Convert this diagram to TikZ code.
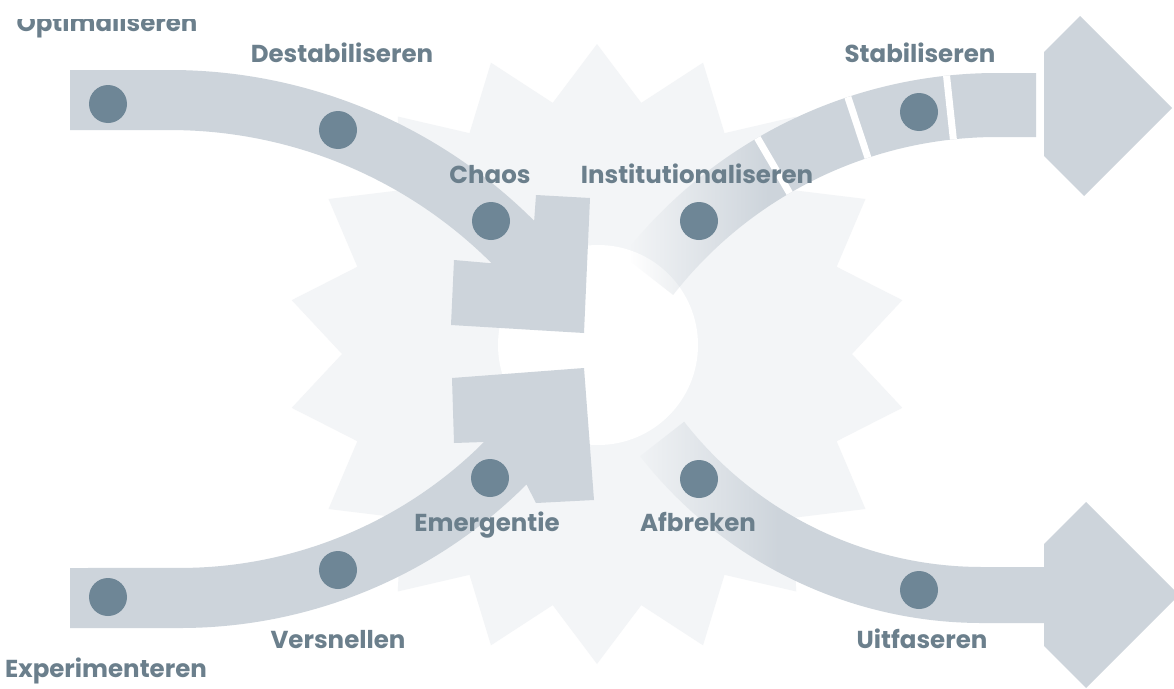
\documentclass[tikz,border=0pt]{standalone}
\usepackage{fontspec}
\setmainfont{Poppins}
\usetikzlibrary{fadings}
\definecolor{armc}{HTML}{CDD4DB}
\definecolor{starc}{HTML}{F3F5F7}
\definecolor{dotc}{HTML}{6E8696}
\definecolor{txtc}{HTML}{6B7F8C}
\tikzfading[name=fadein, left color=transparent!100, right color=transparent!0]
\tikzset{
  arm/.style={fill=armc, draw=none},
  dotnode/.style={circle, fill=dotc, minimum size=38pt, inner sep=0pt},
  lbl/.style={text=txtc, inner sep=0pt, anchor=base, font=\bfseries\fontsize{24.5}{28}\selectfont},
  gapline/.style={draw=white, line width=7pt}
}
\begin{document}
\begin{tikzpicture}[x=1pt, y=-1pt]
\useasboundingbox (0,0) rectangle (1174,688);
\fill[white] (0,0) rectangle (1174,688);
% star
\path[fill=starc] ([shift={(597,354)}]-90:310)
  \foreach \k in {0,...,17}{ -- ([shift={(597,354)}]{-90+20*\k}:310) -- ([shift={(597,354)}]{-80+20*\k}:255) } -- cycle;
% white centre
\fill[white] (598,345) circle[radius=100];

% top-left arm
\fill[arm] (70,70) -- (170,70) arc[start angle=-90, end angle=-45, radius=515]
  -- (536,195) -- (590,198) -- (584,333) -- (451,325) -- (454,260) -- (491.7,263.3)
  arc[start angle=-45, end angle=-90, radius=455] -- (70,130) -- cycle;
% bottom-left arm
\fill[arm] (70,628) -- (180,628) arc[start angle=90, end angle=45, radius=490]
  -- (536,503) -- (594,500) -- (584,368) -- (452,378) -- (454,443) -- (484,442)
  arc[start angle=45, end angle=90, radius=430] -- (70,568) -- cycle;

% top-right arm (fading in)
\begin{scope}
  \clip ([shift={(997,548)}]-142:475) arc[start angle=-142, end angle=-90, radius=475]
    -- (1036,73) -- (1036,137) -- (997,137) arc[start angle=-90, end angle=-142, radius=411] -- cycle;
  \fill[armc] (770,0) rectangle (1174,360);
  \fill[armc, path fading=fadein] (630,0) rectangle (770,360);
\end{scope}
\foreach \a in {-120.3,-108.3,-96.1}{
  \draw[gapline] ([shift={(997,548)}]\a:411) -- ([shift={(997,548)}]\a:475);
}
\fill[arm] (1044,52) -- (1080,16) -- (1172,108) -- (1084,196) -- (1044,156) -- cycle;

% bottom-right arm (fading in)
\begin{scope}
  \clip ([shift={(982,189)}]142:378) arc[start angle=142, end angle=90, radius=378]
    -- (1044,567) -- (1044,544) -- (1086,502) -- (1179,595) -- (1086,688) -- (1044,646) -- (1044,623)
    -- (982,623) arc[start angle=90, end angle=142, radius=434] -- cycle;
  \fill[armc] (780,330) rectangle (1200,700);
  \fill[armc, path fading=fadein] (630,330) rectangle (780,700);
\end{scope}

% dots
\node[dotnode] (d1) at (108,104) {};
\node[dotnode] (d2) at (338,130) {};
\node[dotnode] (d3) at (491,221) {};
\node[dotnode] (d4) at (699,221) {};
\node[dotnode] (d5) at (919,112) {};
\node[dotnode] (d6) at (108,597) {};
\node[dotnode] (d7) at (338,570) {};
\node[dotnode] (d8) at (490,478) {};
\node[dotnode] (d9) at (699,479) {};
\node[dotnode] (d10) at (919,590) {};

% labels
\begin{scope}
  \clip (0,19) rectangle (400,60);
  \node[lbl] (l1) at (107,31) {Optimaliseren};
\end{scope}
\node[lbl] (l2) at (342,62) {Destabiliseren};
\node[lbl] (l3) at (490,183) {Chaos};
\node[lbl] (l4) at (697,183) {Institutionaliseren};
\node[lbl] (l5) at (920,62) {Stabiliseren};
\node[lbl] (l6) at (487,531) {Emergentie};
\node[lbl] (l7) at (698,531) {Afbreken};
\node[lbl] (l8) at (338,648) {Versnellen};
\node[lbl] (l9) at (922,648) {Uitfaseren};
\node[lbl] (l10) at (106,677) {Experimenteren};
\end{tikzpicture}
\end{document}
